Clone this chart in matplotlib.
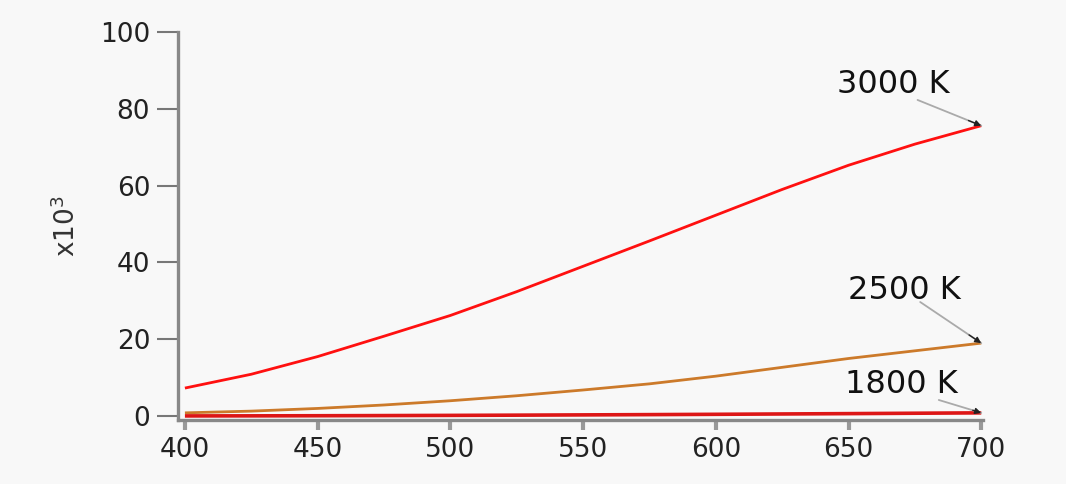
import numpy as np
import matplotlib
matplotlib.use('Agg')
import matplotlib.pyplot as plt

plt.rcParams['font.family'] = ['DejaVu Sans']

# wavelength (nm) and spectral curves, in units of 1e3
wavelength = [400, 425, 450, 475, 500, 525, 550, 575, 600, 625, 650, 675, 700]
t3000 = [7.3, 10.9, 15.5, 20.8, 26.2, 32.4, 39.0, 45.6, 52.3, 59.0, 65.3, 70.8, 75.6]
t2500 = [0.85, 1.3, 2.0, 2.9, 4.0, 5.3, 6.8, 8.4, 10.4, 12.7, 15.0, 17.0, 19.0]
t1800 = [0.05, 0.07, 0.1, 0.14, 0.19, 0.25, 0.32, 0.39, 0.47, 0.56, 0.65, 0.75, 0.85]
labels = ['3000 K', '2500 K', '1800 K']

xticks = [400, 450, 500, 550, 600, 650, 700]
yticks = [0, 20, 40, 60, 80, 100]

bg = '#f8f8f8'
fig = plt.figure(figsize=(10.66, 4.84), dpi=100, facecolor=bg)
ax = fig.add_axes([0.167, 0.132, 0.755, 0.802], facecolor=bg)

ax.plot(wavelength, t3000, color='#ff1010', lw=2.0, solid_capstyle='butt')
ax.plot(wavelength, t2500, color='#cc7a2a', lw=2.0, solid_capstyle='butt')
ax.plot(wavelength, t1800, color='#dd1515', lw=2.6, solid_capstyle='butt')

ax.set_xlim(397.4, 700.6)
ax.set_ylim(-1.04, 100)
ax.set_xticks(xticks)
ax.set_yticks(yticks)

for s in ['top', 'right']:
    ax.spines[s].set_visible(False)
for s in ['left', 'bottom']:
    ax.spines[s].set_color('#888888')
    ax.spines[s].set_linewidth(2.4)

ax.tick_params(axis='y', length=15, width=1.5, color='#777777',
               labelsize=19, labelcolor='#222222', pad=5)
ax.tick_params(axis='x', length=7, width=3, color='#999999',
               labelsize=19, labelcolor='#222222', pad=5)

ax.set_ylabel('x10$^{3}$', fontsize=19, color='#333333', labelpad=14)

# curve labels: grey leader line plus a small dark arrow head at the line end
ends = [t3000[-1], t2500[-1], t1800[-1]]
text_pos = [(667, 86.2), (671, 32.8), (670, 8.1)]
arrow_start = [(676, 82.3), (677, 29.7), (684, 4.2)]
for lab, yend, (tx, ty), (x0, y0) in zip(labels, ends, text_pos, arrow_start):
    ax.text(tx, ty, lab, fontsize=23, color='#111111', ha='center', va='center')
    ax.annotate('', xy=(700, yend), xytext=(x0, y0),
                arrowprops=dict(arrowstyle='-', color='#aaaaaa', lw=1.3,
                                shrinkA=0, shrinkB=0))
    # head: short segment along the same direction
    f = 0.8
    hx, hy = x0 + f * (700 - x0), y0 + f * (yend - y0)
    ax.annotate('', xy=(700, yend), xytext=(hx, hy),
                arrowprops=dict(arrowstyle='-|>', color='#222222', lw=1.0,
                                mutation_scale=9, shrinkA=0, shrinkB=0))

fig.savefig('out.png', dpi=100, facecolor=bg)
